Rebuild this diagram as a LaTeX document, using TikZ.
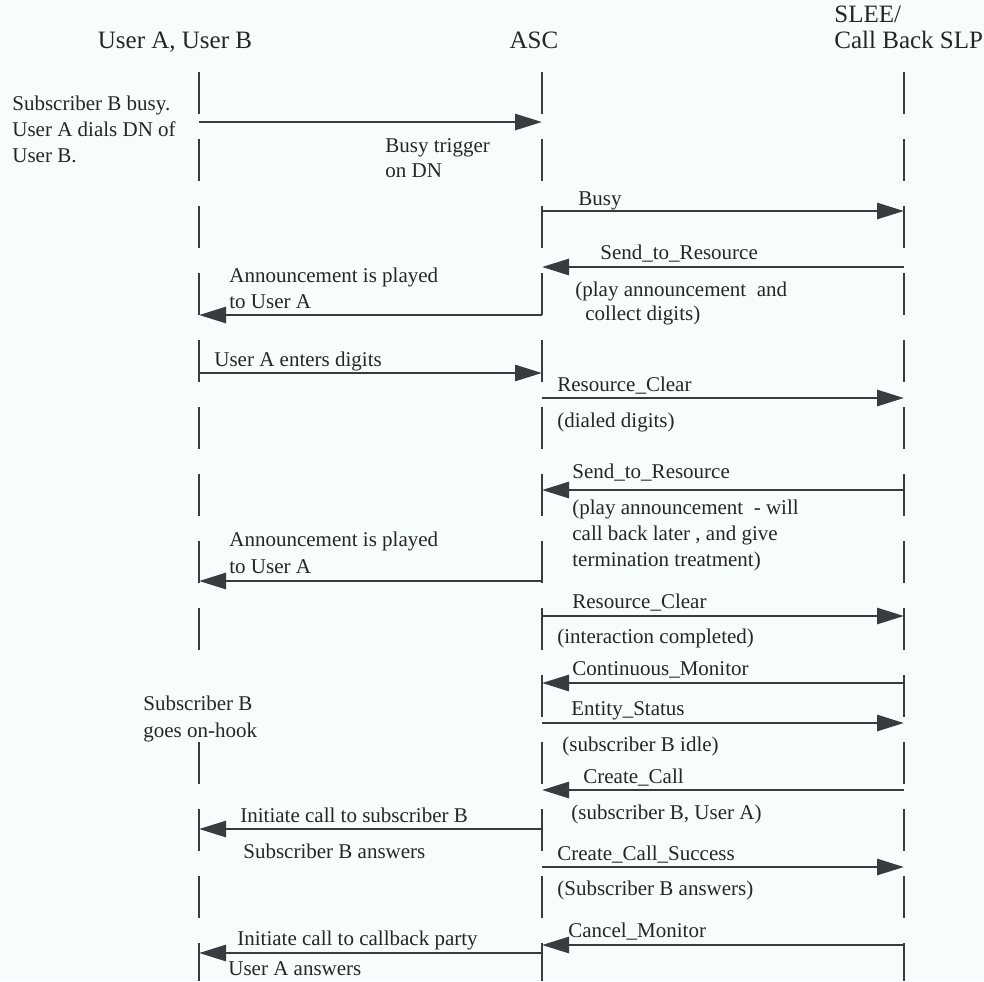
\documentclass[tikz,border=0pt]{standalone}
\usepackage{fontspec}
\setmainfont{Liberation Serif}
\usetikzlibrary{arrows.meta}
\definecolor{paper}{RGB}{247,252,252}
\definecolor{ink}{RGB}{56,60,64}
\definecolor{txt}{RGB}{36,38,41}
\begin{document}
\begin{tikzpicture}[x=0.5pt,y=-0.5pt,
  lifeline/.style={ink, line width=1.4pt, dash pattern=on 21pt off 12.5pt},
  msg/.style={ink, line width=1.4pt, -{Triangle[length=13.5pt,width=8pt]}},
  lbl/.style={txt, inner sep=0pt, anchor=base west, font=\fontsize{10.5}{12.6}\selectfont},
  head/.style={txt, inner sep=0pt, font=\fontsize{12.5}{15}\selectfont}]
\fill[paper] (0,0) rectangle (984,981);
\useasboundingbox (0,0) rectangle (984,981);

% column headings
\node[head, anchor=base] (hUser) at (175,48) {User A, User B};
\node[head, anchor=base] (hASC) at (534,48) {ASC};
\node[head, anchor=base west] (hSLEE) at (834,22) {SLEE/};
\node[head, anchor=base west] (hSLP) at (834,48) {Call Back SLP};

% lifelines
\coordinate (uTop) at (199,72);
\coordinate (uGapA) at (199,655);
\coordinate (uGapB) at (199,742);
\coordinate (uBot) at (199,981);
\coordinate (aTop) at (542,72);
\coordinate (aBot) at (542,981);
\coordinate (sTop) at (904,72);
\coordinate (sBot) at (904,981);
\draw[lifeline] (uTop) -- (uGapA);
\draw[lifeline] (uGapB) -- (uBot);
\draw[lifeline] (aTop) -- (aBot);
\draw[lifeline] (sTop) -- (sBot);

% messages: number / height / start x / end x
\foreach \n/\y/\from/\to in {
   1/122/199/542,  2/211/542/904,  3/267/904/542,  4/315/542/199,
   5/373/199/542,  6/398/542/904,  7/490/904/542,  8/581/542/199,
   9/616/542/904, 10/683/904/542, 11/723/542/904, 12/790/904/542,
  13/829/542/199, 14/867/542/904, 15/945/904/542, 16/953/542/199}{
  \coordinate (m\n-s) at (\from,\y);
  \coordinate (m\n-e) at (\to,\y);
  \draw[msg] (m\n-s) -- (m\n-e);
}

% labels
\node[lbl] (t1) at (12,110) {Subscriber B busy.};
\node[lbl] (t2) at (12,136) {User A dials DN of};
\node[lbl] (t3) at (12,162) {User B.};
\node[lbl] (t4) at (385,152) {Busy trigger};
\node[lbl] (t5) at (385,177) {on DN};
\node[lbl] (t6) at (578,205) {Busy};
\node[lbl] (t7) at (600,259) {Send\_to\_Resource};
\node[lbl] (t8) at (575,296) {(play announcement\ \ and};
\node[lbl] (t9) at (585,320) {collect digits)};
\node[lbl] (t10) at (229,282) {Announcement is played};
\node[lbl] (t11) at (229,308) {to User A};
\node[lbl] (t12) at (214,366) {User A enters digits};
\node[lbl] (t13) at (557,391) {Resource\_Clear};
\node[lbl] (t14) at (557,427) {(dialed digits)};
\node[lbl] (t15) at (572,478) {Send\_to\_Resource};
\node[lbl] (t16) at (572,514) {(play announcement\ \ - will};
\node[lbl] (t17) at (572,540) {call back later , and give};
\node[lbl] (t18) at (572,566) {termination treatment)};
\node[lbl] (t19) at (229,546) {Announcement is played};
\node[lbl] (t20) at (229,573) {to User A};
\node[lbl] (t21) at (572,608) {Resource\_Clear};
\node[lbl] (t22) at (557,643) {(interaction completed)};
\node[lbl] (t23) at (572,675) {Continuous\_Monitor};
\node[lbl] (t24) at (143,710) {Subscriber B};
\node[lbl] (t25) at (143,737) {goes on-hook};
\node[lbl] (t26) at (571,715) {Entity\_Status};
\node[lbl] (t27) at (562,751) {(subscriber B idle)};
\node[lbl] (t28) at (583,783) {Create\_Call};
\node[lbl] (t29) at (571,819) {(subscriber B, User A)};
\node[lbl] (t30) at (240,822) {Initiate call to subscriber B};
\node[lbl] (t31) at (243,858) {Subscriber B answers};
\node[lbl] (t32) at (557,860) {Create\_Call\_Success};
\node[lbl] (t33) at (557,895) {(Subscriber B answers)};
\node[lbl] (t34) at (568,937) {Cancel\_Monitor};
\node[lbl] (t35) at (237,945) {Initiate call to callback party};
\node[lbl] (t36) at (228,975) {User A answers};
\end{tikzpicture}
\end{document}
